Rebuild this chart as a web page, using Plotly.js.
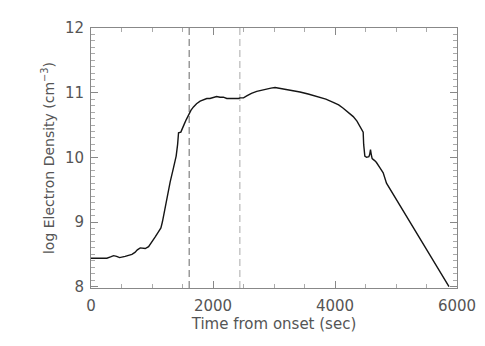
<!DOCTYPE html>
<html>
<head>
<meta charset="utf-8">
<script src="https://cdn.plot.ly/plotly-3.0.1.min.js"></script>
<style>
  html, body { margin: 0; padding: 0; background: #fff; }
  #plot { width: 485px; height: 346px; }
</style>
</head>
<body>
<div id="plot"></div>
<script>
// time from onset (sec) and log electron density
var timeSec = [0, 260, 320, 371, 420, 469, 560, 671, 720, 760, 807, 850, 889, 944, 1000,
  1053, 1100, 1146, 1170, 1189, 1244, 1298, 1353, 1396, 1420, 1435, 1473, 1500, 1527, 1560,
  1598, 1640, 1680, 1730, 1789, 1850, 1898, 1950, 2007, 2060, 2116, 2170, 2226, 2300, 2362,
  2420, 2444, 2500, 2553, 2630, 2717, 2800, 2880, 2950, 3017, 3080, 3153, 3300, 3426, 3560,
  3699, 3850, 3971, 4060, 4135, 4220, 4299, 4360, 4408, 4462, 4470, 4479, 4489, 4517, 4555,
  4570, 4582, 4595, 4609, 4650, 4680, 4735, 4790, 4844, 5869];
var logNe = [8.44, 8.44, 8.46, 8.48, 8.47, 8.45, 8.47, 8.50, 8.53, 8.57, 8.60, 8.60, 8.59,
  8.62, 8.69, 8.77, 8.84, 8.91, 9.00, 9.10, 9.36, 9.62, 9.84, 10.02, 10.20, 10.38, 10.39,
  10.44, 10.51, 10.58, 10.66, 10.73, 10.78, 10.83, 10.87, 10.89, 10.91, 10.91, 10.93,
  10.94, 10.93, 10.93, 10.91, 10.91, 10.90, 10.91, 10.92, 10.92, 10.95, 10.99, 11.02, 11.04,
  11.06, 11.07, 11.08, 11.07, 11.06, 11.04, 11.01, 10.98, 10.94, 10.90, 10.85, 10.81, 10.76,
  10.70, 10.63, 10.56, 10.47, 10.39, 10.20, 10.07, 10.02, 10.00, 10.01, 10.05, 10.12, 10.04,
  9.98, 9.95, 9.92, 9.84, 9.76, 9.60, 8.00];

// marked times (dashed lines)
var markTimes = [1610, 2440];
var markColors = ['#8a8a8a', '#bdbdbd'];

var yRange = [7.98, 12];

var traces = [];
for (var i = 0; i < markTimes.length; i++) {
  traces.push({
    x: [markTimes[i], markTimes[i]],
    y: yRange,
    mode: 'lines',
    line: { color: markColors[i], width: 1.3, dash: '7px,4px' },
    hoverinfo: 'skip',
    showlegend: false
  });
}
traces.push({
  x: timeSec,
  y: logNe,
  mode: 'lines',
  line: { color: '#151515', width: 1.4 },
  showlegend: false
});

var tickFont = { family: 'DejaVu Sans, sans-serif', size: 15, color: '#555' };
var yTitleFont = { family: 'DejaVu Sans, sans-serif', size: 14, color: '#555' };

var layout = {
  width: 485,
  height: 346,
  margin: { l: 91, r: 28, t: 28, b: 58 },
  paper_bgcolor: '#fff',
  plot_bgcolor: '#fff',
  font: tickFont,
  xaxis: {
    title: { text: 'Time from onset (sec)', font: tickFont, standoff: 3 },
    range: [0, 6000],
    tickvals: [0, 2000, 4000, 6000],
    ticks: 'inside',
    ticklen: 7,
    tickcolor: '#888',
    ticklabelstandoff: 4,
    showgrid: false,
    zeroline: false,
    showline: true,
    linecolor: '#888',
    linewidth: 1,
    mirror: 'allticks',
    minor: { ticks: 'inside', dtick: 500, ticklen: 4, tickcolor: '#aaa' }
  },
  yaxis: {
    title: { text: 'log Electron Density (cm<sup>\u22123</sup>)', font: yTitleFont, standoff: 7 },
    range: yRange,
    tickvals: [8, 9, 10, 11, 12],
    ticks: 'inside',
    ticklen: 7,
    tickcolor: '#888',
    ticklabelstandoff: 3,
    showgrid: false,
    zeroline: false,
    showline: true,
    linecolor: '#888',
    linewidth: 1,
    mirror: 'allticks',
    minor: { ticks: 'inside', dtick: 0.1, ticklen: 4, tickcolor: '#aaa' }
  }
};

Plotly.newPlot('plot', traces, layout, { displayModeBar: false, staticPlot: true });
</script>
</body>
</html>
